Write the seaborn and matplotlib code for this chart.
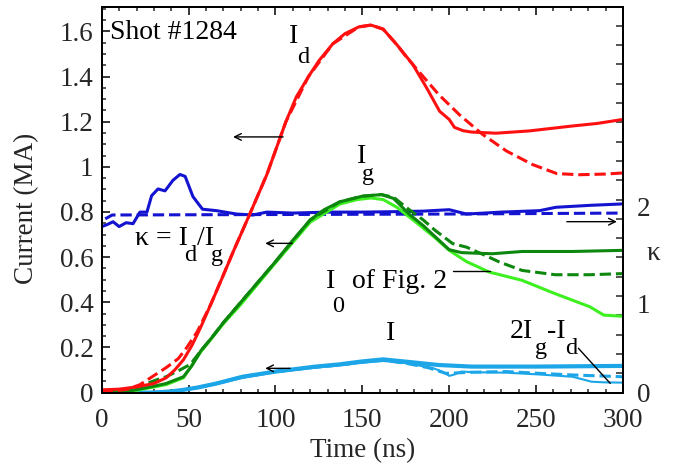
import numpy as np
import pandas as pd
import matplotlib
matplotlib.use("Agg")
import matplotlib.pyplot as plt
import seaborn as sns
from matplotlib.ticker import MultipleLocator, FixedLocator, FixedFormatter
from matplotlib.transforms import ScaledTranslation

# Id (solid / dashed), MA
t_id = [0, 10, 20, 30, 37, 42, 47, 52, 57, 63, 70, 76, 85, 95, 106, 112, 119, 125, 133, 140,
        148, 155, 162, 170, 179, 187, 194.5, 200, 203, 208, 213, 227, 246, 271, 285, 300]
id_s = [0.012, 0.015, 0.025, 0.04, 0.065, 0.10, 0.145, 0.21, 0.29, 0.395, 0.52, 0.63, 0.787, 0.965, 1.20, 1.31, 1.40, 1.47, 1.545, 1.59,
        1.62, 1.628, 1.61, 1.54, 1.454, 1.35, 1.246, 1.21, 1.175, 1.16, 1.154, 1.149, 1.159, 1.181, 1.192, 1.21]
t_idd = [0, 10, 15, 22, 28, 37, 44, 49, 55, 63, 76, 85, 95, 106, 119, 133, 148, 155, 162, 170,
         175, 180, 185, 194, 206, 219, 233, 248, 262, 275, 290, 300]
id_d = [0.005, 0.01, 0.015, 0.035, 0.065, 0.11, 0.15, 0.20, 0.27, 0.395, 0.63, 0.787, 0.965, 1.20, 1.40, 1.545, 1.62, 1.628, 1.61, 1.54,
        1.49, 1.445, 1.40, 1.32, 1.23, 1.145, 1.07, 1.01, 0.97, 0.965, 0.968, 0.973]

# Ig (solid / dashed) and I0 of Fig. 2
t_ig = [0, 10, 18, 28, 37, 47, 52, 57, 63, 70, 80, 90, 100, 110, 120, 128, 137, 150, 161, 168,
        177, 185, 192, 200, 207, 213, 225, 242, 271, 300]
ig_s = [0.0, 0.003, 0.01, 0.025, 0.04, 0.07, 0.12, 0.185, 0.24, 0.31, 0.40, 0.49, 0.58, 0.675, 0.765, 0.81, 0.845, 0.87, 0.877, 0.86,
        0.79, 0.74, 0.69, 0.633, 0.62, 0.618, 0.615, 0.625, 0.625, 0.63]
t_igd = [0, 20, 26, 31, 37, 45, 51, 57, 63, 70, 80, 100, 120, 137, 150, 161, 168, 177, 185, 192,
         202, 210, 220, 229, 242, 261, 281, 300]
ig_d = [0.0, 0.015, 0.04, 0.055, 0.07, 0.10, 0.125, 0.185, 0.24, 0.31, 0.40, 0.58, 0.765, 0.845, 0.87, 0.877, 0.865, 0.81, 0.765, 0.718,
        0.66, 0.644, 0.61, 0.578, 0.541, 0.522, 0.522, 0.527]
t_i0 = [0, 20, 37, 47, 57, 70, 80, 100, 120, 137, 147, 155, 162, 170, 180, 192, 200, 210, 223, 242, 261, 281, 289, 300]
i0 = [0.0, 0.01, 0.035, 0.065, 0.18, 0.305, 0.39, 0.575, 0.755, 0.835, 0.855, 0.862, 0.855, 0.82, 0.76, 0.685, 0.63, 0.58, 0.534,
      0.497, 0.438, 0.38, 0.343, 0.338]

# kappa = Id/Ig (right axis)
t_k = [0, 3, 6.5, 10, 14, 18, 22, 26, 28.7, 32.4, 36.4, 41, 45, 48, 52.5, 58, 66, 77.6, 87, 95, 110, 130, 150, 170,
       185, 200, 210, 230, 252, 261.5, 281, 300]
k_s = [1.72, 1.74, 1.77, 1.72, 1.76, 1.75, 1.87, 1.87, 2.04, 2.11, 2.09, 2.20, 2.26, 2.24, 2.03, 1.90, 1.885, 1.85, 1.84, 1.87,
       1.86, 1.87, 1.87, 1.875, 1.88, 1.895, 1.85, 1.87, 1.885, 1.92, 1.94, 1.955]
t_kd = [2, 6, 100, 200, 300]
k_d = [1.80, 1.84, 1.845, 1.85, 1.86]

# I (solid / dashed) and 2Ig-Id
t_i = [0, 30, 40, 47, 55, 66, 81, 100, 123, 137, 150, 162, 175, 194, 213, 250, 300]
i_s = [0.0, 0.0, 0.005, 0.012, 0.022, 0.04, 0.07, 0.093, 0.115, 0.125, 0.138, 0.147, 0.137, 0.122, 0.115, 0.115, 0.118]
t_idash = [0, 30, 40, 47, 55, 66, 81, 100, 123, 137, 150, 162, 175, 188, 198, 213, 233, 252, 271, 300]
i_d = [0.0, 0.0, 0.005, 0.012, 0.022, 0.04, 0.07, 0.093, 0.113, 0.122, 0.135, 0.143, 0.13, 0.11, 0.085, 0.09, 0.093, 0.085, 0.078, 0.07]
t_2g = [0, 30, 40, 47, 55, 66, 81, 100, 123, 137, 150, 162, 175, 190, 196, 200, 203, 207, 215, 233, 252, 271, 282, 290, 300]
i_2g = [0.0, 0.0, 0.003, 0.01, 0.02, 0.038, 0.065, 0.09, 0.11, 0.12, 0.132, 0.14, 0.13, 0.11, 0.093, 0.074, 0.08, 0.093, 0.09,
        0.088, 0.08, 0.07, 0.048, 0.045, 0.044]

RED = "#ff1010"
DGREEN = "#0d870d"
LGREEN = "#3ef020"
BLUE = "#1414d0"
LBLUE = "#1ca6e8"

sns.set_theme(style="ticks")
plt.rcParams['font.family'] = ['Liberation Serif', 'DejaVu Serif']

fig, ax = plt.subplots(figsize=(6.83, 4.69), dpi=100)
fig.subplots_adjust(left=0.149, right=0.912, bottom=0.163, top=0.986)
ax2 = ax.twinx()
ax.set_zorder(ax2.get_zorder() + 1)
ax.patch.set_visible(False)

# kappa on the right axis
sns.lineplot(x=t_kd, y=k_d, ax=ax2, color=BLUE, lw=2.2, linestyle='--')
sns.lineplot(x=t_k, y=k_s, ax=ax2, color=BLUE, lw=2.2)

# currents on the left axis
sns.lineplot(x=t_i, y=i_s, ax=ax, color=LBLUE, lw=3.0)
sns.lineplot(x=t_idash, y=i_d, ax=ax, color=LBLUE, lw=2.2, linestyle='--')
sns.lineplot(x=t_2g, y=i_2g, ax=ax, color=LBLUE, lw=1.5)
sns.lineplot(x=t_i0, y=i0, ax=ax, color=LGREEN, lw=2.2)
sns.lineplot(x=t_igd, y=ig_d, ax=ax, color=DGREEN, lw=2.2, linestyle='--')
sns.lineplot(x=t_ig, y=ig_s, ax=ax, color=DGREEN, lw=2.2)
sns.lineplot(x=t_idd, y=id_d, ax=ax, color=RED, lw=2.2, linestyle='--')
sns.lineplot(x=t_id, y=id_s, ax=ax, color=RED, lw=2.2)

ax.set_xlim(0, 300)
ax.set_ylim(0, 1.71)
ax2.set_ylim(0, 4.0)

fs = 19.5
ax.set_xlabel('Time (ns)', fontsize=fs)
ax.set_ylabel('Current (MA)', fontsize=fs)
ax.xaxis.set_label_coords(0.5, -0.118)
ax.yaxis.set_label_coords(-0.12, 0.476)
ax2.set_ylabel('')

ax.xaxis.set_major_locator(MultipleLocator(50))
ax.xaxis.set_minor_locator(MultipleLocator(10))
ax.yaxis.set_major_locator(MultipleLocator(0.2))
ax.yaxis.set_minor_locator(MultipleLocator(0.05))
ax.xaxis.set_major_formatter(plt.FuncFormatter(lambda v, p: f"{v:g}"))
ax.yaxis.set_major_formatter(plt.FuncFormatter(lambda v, p: f"{v:g}"))
ax.tick_params(axis='both', which='major', direction='in', length=6, width=1.3, labelsize=fs, top=True, right=False, pad=6)
ax.tick_params(axis='both', which='minor', direction='in', length=3, width=1.1, top=True, right=False)
ax.tick_params(axis='x', which='major', pad=11)

kticks = list(np.round(np.arange(0, 4.01, 0.2), 1))
ax2.yaxis.set_major_locator(FixedLocator(kticks))
ax2.yaxis.set_major_formatter(FixedFormatter(['0', '', '', '', '', '1', '', '', '', '', '2'] + [''] * (len(kticks) - 11)))
ax2.tick_params(axis='y', which='major', direction='in', length=5, width=1.1, labelsize=fs, pad=10)
# the 1 and 2 labels sit a little below their ticks in the original
shift = ScaledTranslation(0, -0.07, fig.dpi_scale_trans)
for i in (5, 10):
    lab = ax2.yaxis.get_major_ticks()[i].label2
    lab.set_transform(lab.get_transform() + shift)

for a in (ax, ax2):
    for s in a.spines.values():
        s.set_linewidth(1.4)
        s.set_color('black')

tk = dict(fontsize=20, color='black')
sub = dict(fontsize=17.5, color='black')
ax.text(4.8, 1.565, 'Shot #1284', ha='left', va='baseline', **tk)
ax.text(110.3, 1.548, 'I', ha='center', va='baseline', **tk)
ax.text(115.9, 1.459, 'd', ha='center', va='baseline', **sub)
ax.text(149.7, 1.016, 'I', ha='center', va='baseline', **tk)
ax.text(153.5, 0.943, 'g', ha='center', va='baseline', **sub)
ax.text(19.2, 0.654, 'κ = I', ha='left', va='baseline', **tk)
ax.text(51.0, 0.584, 'd', ha='center', va='baseline', **sub)
ax.text(54.8, 0.654, '/I', ha='left', va='baseline', **tk)
ax.text(66.2, 0.584, 'g', ha='center', va='baseline', **sub)
ax.text(131.5, 0.462, 'I', ha='center', va='baseline', **tk)
ax.text(136.1, 0.357, '0', ha='center', va='baseline', **sub)
ax.text(144.0, 0.462, 'of Fig. 2', ha='left', va='baseline', **tk)
ax.text(166.0, 0.233, 'I', ha='center', va='baseline', **tk)
ax.text(235.1, 0.240, '2I', ha='left', va='baseline', **tk)
ax.text(256.2, 0.240, '-I', ha='left', va='baseline', **tk)
ax.text(252.8, 0.170, 'g', ha='center', va='baseline', **sub)
ax.text(270.0, 0.170, 'd', ha='center', va='baseline', **sub)
ax2.text(1.059, 0.361, 'κ', transform=ax2.transAxes, ha='center', va='center', fontsize=fs)

arrow = dict(arrowstyle='->', lw=1.0, color='black', shrinkA=0, shrinkB=0)
ax.annotate('', xy=(75.6, 1.1325), xytext=(104.4, 1.1325), arrowprops=arrow)
ax.annotate('', xy=(94.1, 0.661), xytext=(109.6, 0.661), arrowprops=arrow)
ax.annotate('', xy=(94.1, 0.1073), xytext=(108.4, 0.1073), arrowprops=arrow)
ax.annotate('', xy=(296.5, 0.757), xytext=(267.7, 0.757), arrowprops=arrow)
ax.plot([202.3, 223.6], [0.5386, 0.5386], color='black', lw=1.0)
ax.plot([274.4, 292.7], [0.196, 0.0408], color='black', lw=1.0)

fig.savefig('out.png', dpi=100)
